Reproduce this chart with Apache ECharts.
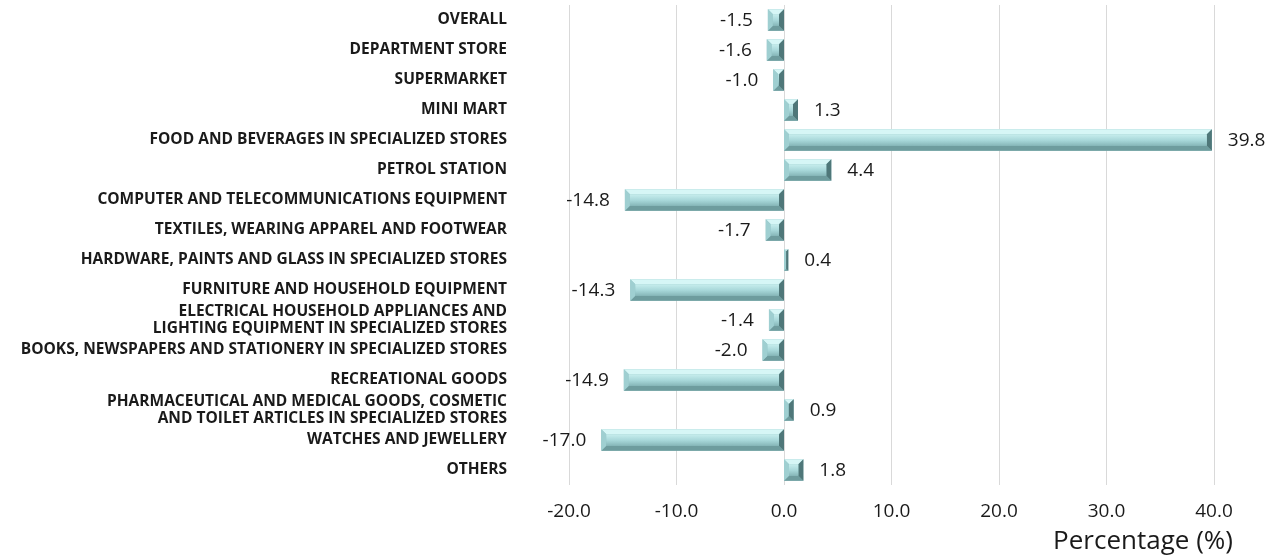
<!DOCTYPE html>
<html>
<head>
<meta charset="utf-8">
<script src="https://cdn.jsdelivr.net/npm/echarts@6/dist/echarts.min.js"></script>
<style>
html,body{margin:0;padding:0;background:#fff;}
#chart{width:1279px;height:558px;}
</style>
</head>
<body>
<div id="chart"></div>
<script>
// categories, top to bottom
var categories = [
    'OVERALL',
    'DEPARTMENT STORE',
    'SUPERMARKET',
    'MINI MART',
    'FOOD AND BEVERAGES IN SPECIALIZED STORES',
    'PETROL STATION',
    'COMPUTER AND TELECOMMUNICATIONS EQUIPMENT',
    'TEXTILES, WEARING APPAREL AND FOOTWEAR',
    'HARDWARE, PAINTS AND GLASS IN SPECIALIZED STORES',
    'FURNITURE AND HOUSEHOLD EQUIPMENT',
    'ELECTRICAL HOUSEHOLD APPLIANCES AND\nLIGHTING EQUIPMENT IN SPECIALIZED STORES',
    'BOOKS, NEWSPAPERS AND STATIONERY IN SPECIALIZED STORES',
    'RECREATIONAL GOODS',
    'PHARMACEUTICAL AND MEDICAL GOODS, COSMETIC\nAND TOILET ARTICLES IN SPECIALIZED STORES',
    'WATCHES AND JEWELLERY',
    'OTHERS'
];
var values = [-1.5, -1.6, -1.0, 1.3, 39.8, 4.4, -14.8, -1.7, 0.4, -14.3, -1.4, -2.0, -14.9, 0.9, -17.0, 1.8];
var axisMin = -20, axisMax = 40, axisStep = 10;

var chart = echarts.init(document.getElementById('chart'));

/* bevelled bar, drawn from the axis coordinates */
function renderBar(params, api) {
    var idx = api.value(0);
    var v = api.value(1);
    var p0 = api.coord([0, idx]);
    var p1 = api.coord([v, idx]);
    var h = api.size([0, 1])[1] * 0.72;
    var x1 = Math.min(p0[0], p1[0]), x2 = Math.max(p0[0], p1[0]);
    var y1 = p0[1] - h / 2, y2 = p0[1] + h / 2;
    var b = Math.min(5, (x2 - x1) / 2, h / 2);
    var kids = [
        {type: 'rect', shape: {x: x1, y: y1, width: x2 - x1, height: h},
         style: {fill: '#8dbfc1'}},
        // top bevel
        {type: 'polygon', shape: {points: [[x1, y1], [x2, y1], [x2 - b, y1 + b], [x1 + b, y1 + b]]},
         style: {fill: '#d6f6f6'}},
        // bottom bevel
        {type: 'polygon', shape: {points: [[x1, y2], [x2, y2], [x2 - b, y2 - b], [x1 + b, y2 - b]]},
         style: {fill: '#6e9c9e'}},
        // left bevel
        {type: 'polygon', shape: {points: [[x1, y1], [x1 + b, y1 + b], [x1 + b, y2 - b], [x1, y2]]},
         style: {fill: '#9fcfd1'}},
        // right bevel
        {type: 'polygon', shape: {points: [[x2, y1], [x2 - b, y1 + b], [x2 - b, y2 - b], [x2, y2]]},
         style: {fill: '#4f7779'}},
        // face
        {type: 'rect', shape: {x: x1 + b, y: y1 + b, width: Math.max(0, x2 - x1 - 2 * b), height: Math.max(0, h - 2 * b)},
         style: {fill: new echarts.graphic.LinearGradient(0, 0, 0, 1, [
             {offset: 0, color: '#c8eeee'},
             {offset: 0.55, color: '#a6d6d8'},
             {offset: 1, color: '#86b6b8'}
         ])}},
        {type: 'text', style: {
            text: v.toFixed(1),
            x: v >= 0 ? p1[0] + 16 : p1[0] - 15,
            y: p0[1] + 1,
            align: v >= 0 ? 'left' : 'right',
            verticalAlign: 'middle',
            fontSize: 19,
            fontFamily: 'Open Sans',
            fill: '#1a1a1a'
        }}
    ];
    return {type: 'group', children: kids};
}

var option = {
    backgroundColor: '#fff',
    animation: false,
    grid: {left: 569, right: 65, top: 5, bottom: 73},
    xAxis: {
        type: 'value',
        min: axisMin,
        max: axisMax,
        interval: axisStep,
        name: 'Percentage (%)',
        nameLocation: 'end',
        nameGap: 0,
        nameTextStyle: {
            fontSize: 26,
            fontFamily: 'Open Sans',
            color: '#1a1a1a',
            align: 'right',
            verticalAlign: 'top',
            padding: [44, -19, 0, 0]
        },
        axisLine: {show: false},
        axisTick: {show: false},
        splitLine: {lineStyle: {color: '#d9d9d9', width: 1}},
        axisLabel: {
            fontSize: 19,
            fontFamily: 'Open Sans',
            color: '#1a1a1a',
            margin: 17,
            formatter: function (v) { return v.toFixed(1); }
        }
    },
    yAxis: {
        type: 'category',
        data: categories,
        inverse: true,
        axisLine: {show: false},
        axisTick: {show: false},
        axisLabel: {
            fontSize: 15.5,
            fontWeight: 'bold',
            fontFamily: 'Open Sans',
            color: '#1a1a1a',
            margin: 62,
            lineHeight: 17
        }
    },
    series: [{
        type: 'custom',
        renderItem: renderBar,
        encode: {x: 1, y: 0},
        data: values.map(function (v, i) { return [i, v]; })
    }]
};
chart.setOption(option);
</script>
</body>
</html>
